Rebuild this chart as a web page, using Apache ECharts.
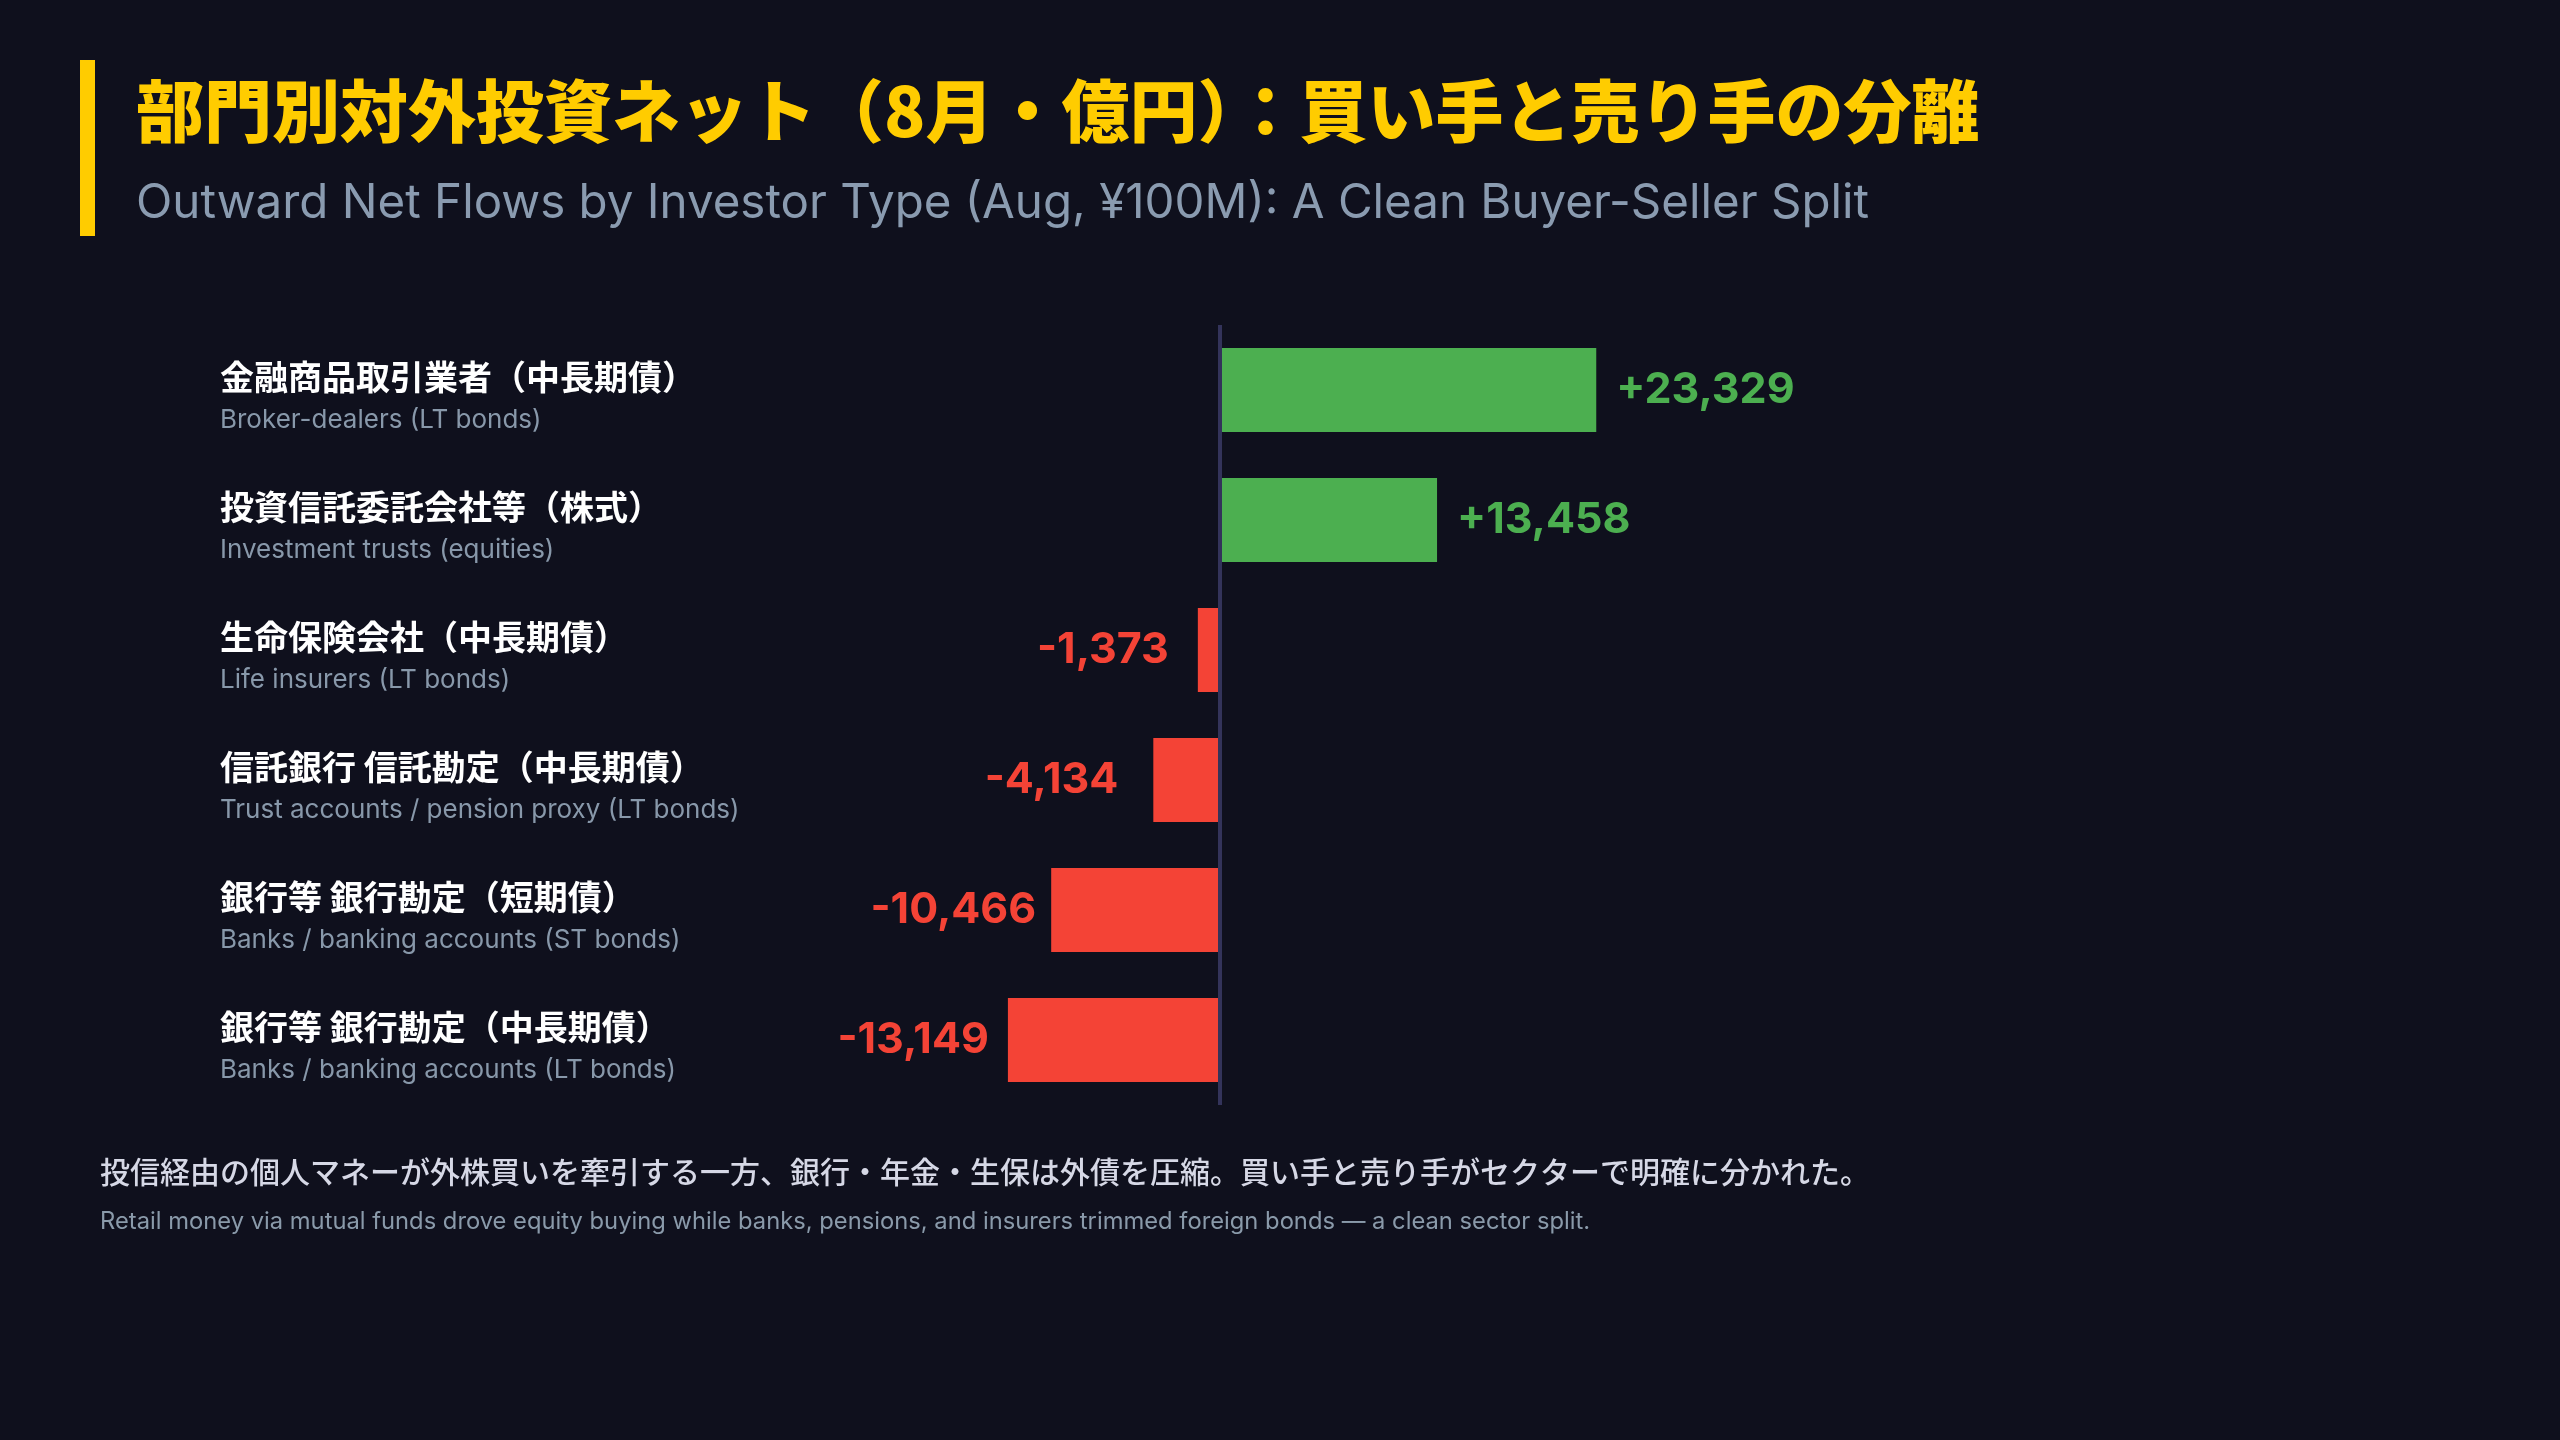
<!DOCTYPE html>
<html>
<head>
<meta charset="utf-8">
<title>部門別対外投資ネット</title>
<script src="https://cdn.jsdelivr.net/npm/echarts@6/dist/echarts.min.js"></script>
<style>
  html, body { margin: 0; padding: 0; background: #0f101d; }
  #chart { width: 2560px; height: 1440px; }
</style>
</head>
<body>
<div id="chart"></div>
<script>
// 部門（日本語）と英語の説明
var sectorsJp = [
  '金融商品取引業者（中長期債）',
  '投資信託委託会社等（株式）',
  '生命保険会社（中長期債）',
  '信託銀行 信託勘定（中長期債）',
  '銀行等 銀行勘定（短期債）',
  '銀行等 銀行勘定（中長期債）'
];
var sectorsEn = [
  'Broker-dealers (LT bonds)',
  'Investment trusts (equities)',
  'Life insurers (LT bonds)',
  'Trust accounts / pension proxy (LT bonds)',
  'Banks / banking accounts (ST bonds)',
  'Banks / banking accounts (LT bonds)'
];
// 8月の対外投資ネット（億円）
var netFlows = [23329, 13458, -1373, -4134, -10466, -13149];

var BUY = '#4caf50', SELL = '#f44336';
var LATIN = "Inter, 'Noto Sans CJK JP', sans-serif";
var CJK = "'Noto Sans CJK JP', Inter, sans-serif";
var labelGap = [20, 20, 29, 35, 15, 19]; // ラベルとバーの間隔

var myChart = echarts.init(document.getElementById('chart'));

var barData = [];
for (var i = 0; i < netFlows.length; i++) {
  var v = netFlows[i];
  barData.push({
    value: v,
    itemStyle: { color: v >= 0 ? BUY : SELL },
    label: { position: v >= 0 ? 'right' : 'left', color: v >= 0 ? BUY : SELL, distance: labelGap[i] }
  });
}

var option = {
  backgroundColor: '#0f101d',
  animation: false,
  graphic: [
    { type: 'rect', shape: { x: 80, y: 60, width: 15, height: 176 }, style: { fill: '#ffcc00' } },
    { type: 'text', style: { x: 136, y: 111, text: '部門別対外投資ネット（8月・億円）：買い手と売り手の分離',
        fill: '#ffcc00', font: '900 68px ' + CJK, textVerticalAlign: 'middle' } },
    { type: 'text', style: { x: 136, y: 204, text: 'Outward Net Flows by Investor Type (Aug, ¥100M): A Clean Buyer-Seller Split',
        fill: '#8a9bb0', font: '400 47.5px ' + LATIN, textVerticalAlign: 'middle' } },
    { type: 'text', style: { x: 100, y: 1172, text: '投信経由の個人マネーが外株買いを牽引する一方、銀行・年金・生保は外債を圧縮。買い手と売り手がセクターで明確に分かれた。',
        fill: '#d6d8e6', font: '500 30px ' + CJK, textVerticalAlign: 'middle' } },
    { type: 'text', style: { x: 100, y: 1222, text: 'Retail money via mutual funds drove equity buying while banks, pensions, and insurers trimmed foreign bonds — a clean sector split.',
        fill: '#8a9aaa', font: '400 23.75px ' + LATIN, textVerticalAlign: 'middle' } }
  ],
  grid: { left: 220, top: 325, width: 2129, height: 780 },
  xAxis: {
    type: 'value',
    min: -62000,
    max: 70000,
    show: false
  },
  yAxis: {
    type: 'category',
    inverse: true,
    data: sectorsJp,
    axisLine: { show: false },
    axisTick: { show: false },
    splitLine: { show: false },
    axisLabel: {
      align: 'left',
      margin: 0,
      padding: [14, 0, 0, 0],
      formatter: function (value, idx) {
        return '{a|' + value + '}\n{b|' + sectorsEn[idx] + '}';
      },
      rich: {
        a: { fontFamily: CJK, fontSize: 34, fontWeight: 700, color: '#ffffff', lineHeight: 47 },
        b: { fontFamily: LATIN, fontSize: 26, fontWeight: 400, color: '#8898aa', lineHeight: 40 }
      }
    }
  },
  series: [{
    type: 'bar',
    data: barData,
    barWidth: 84,
    label: {
      show: true,
      fontFamily: LATIN,
      fontSize: 43,
      fontWeight: 700,
      formatter: function (p) {
        var s = Math.abs(p.value).toLocaleString('en-US');
        return (p.value >= 0 ? '+' : '-') + s;
      }
    },
    markLine: {
      silent: true,
      symbol: 'none',
      label: { show: false },
      lineStyle: { color: '#33335a', width: 4, type: 'solid' },
      data: [{ xAxis: 0 }]
    }
  }]
};

myChart.setOption(option);
</script>
</body>
</html>
